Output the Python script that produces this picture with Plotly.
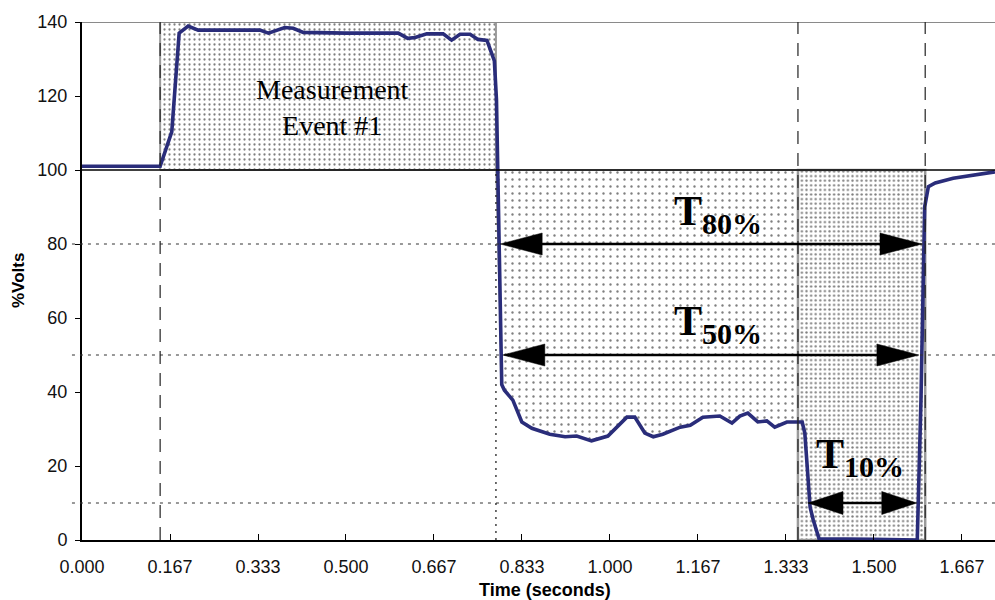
import numpy as np
import plotly.graph_objects as go

# ---- data ----
time_s = [0.000, 0.148, 0.170, 0.184, 0.201, 0.220, 0.260, 0.337, 0.353, 0.384, 0.400,
          0.419, 0.500, 0.599, 0.617, 0.631, 0.653, 0.684, 0.700, 0.716, 0.735, 0.750,
          0.767, 0.781, 0.785, 0.795, 0.800, 0.816, 0.833, 0.852, 0.886, 0.915, 0.937,
          0.965, 0.996, 1.032, 1.047, 1.066, 1.082, 1.100, 1.133, 1.152, 1.176, 1.208,
          1.231, 1.246, 1.261, 1.280, 1.297, 1.312, 1.335, 1.364, 1.369, 1.379, 1.385,
          1.396, 1.500, 1.582, 1.589, 1.596, 1.603, 1.616, 1.650, 1.688, 1.729]
volts = [101.0, 101.0, 110.3, 137.0, 138.9, 137.8, 137.8, 137.8, 137.0, 138.5, 138.3,
         137.2, 137.0, 137.0, 135.6, 135.8, 136.8, 136.8, 135.1, 136.7, 136.7, 135.3,
         135.0, 129.5, 119.0, 42.0, 40.5, 37.8, 31.9, 30.2, 28.6, 27.9, 28.1,
         26.8, 28.1, 33.2, 33.2, 28.9, 27.9, 28.6, 30.5, 31.0, 33.2, 33.5,
         31.6, 33.5, 34.3, 31.9, 32.2, 30.5, 31.9, 31.9, 28.9, 8.9, 5.4,
         0.3, 0.2, 0.0, 38.0, 90.0, 95.5, 96.5, 97.8, 98.6, 99.5]

x_tick_vals = [0.0, 1/6, 2/6, 3/6, 4/6, 5/6, 1.0, 7/6, 8/6, 9/6, 10/6]
x_tick_text = ["0.000", "0.167", "0.333", "0.500", "0.667", "0.833", "1.000",
               "1.167", "1.333", "1.500", "1.667"]
y_tick_vals = [0, 20, 40, 60, 80, 100, 120, 140]

event_start = 0.148
drop_start = 0.784
t10_start = 1.356
event_end = 1.597
nominal = 100
peak_top = 140
levels = {"80%": 80, "50%": 50, "10%": 10}

X_MAX = 1.7292
Y_MAX = 140

NAVY = "#2a2d7a"
GRAY = "#9a9a9a"
SERIF = "Liberation Serif, Times New Roman, serif"
SANS = "Liberation Sans, Arial, sans-serif"

fig = go.Figure()

# Measurement Event #1 box
fig.add_trace(go.Scatter(
    x=[event_start, drop_start, drop_start, event_start, event_start],
    y=[nominal, nominal, peak_top, peak_top, nominal],
    fill="toself", mode="lines", line=dict(color=GRAY, width=2),
    fillcolor="white",
    fillpattern=dict(shape=".", size=5, solidity=0.16, fgcolor="#000", bgcolor="white"),
    hoverinfo="skip", showlegend=False))

# Sag region between 100 and the curve
t_arr = np.array(time_s)
v_arr = np.array(volts)
mask = (t_arr > drop_start) & (t_arr < t10_start)
right_v = float(np.interp(t10_start, t_arr, v_arr))
poly_x = [drop_start, t10_start, t10_start] + list(t_arr[mask][::-1]) + [drop_start]
poly_y = [nominal, nominal, min(right_v, nominal)] + list(np.minimum(v_arr[mask][::-1], nominal)) + [nominal]
fig.add_trace(go.Scatter(
    x=poly_x, y=poly_y, fill="toself", mode="lines",
    line=dict(color=GRAY, width=1.5), fillcolor="white",
    fillpattern=dict(shape=".", size=7, solidity=0.09, fgcolor="#000", bgcolor="white"),
    hoverinfo="skip", showlegend=False))

# T10% dense box
fig.add_trace(go.Scatter(
    x=[t10_start, event_end, event_end, t10_start, t10_start],
    y=[0, 0, nominal, nominal, 0],
    fill="toself", mode="lines", line=dict(color=GRAY, width=2.5),
    fillcolor="white",
    fillpattern=dict(shape=".", size=4.6, solidity=0.2, fgcolor="#000", bgcolor="white"),
    hoverinfo="skip", showlegend=False))

# voltage curve
fig.add_trace(go.Scatter(
    x=time_s, y=volts, mode="lines",
    line=dict(color=NAVY, width=3.6), hoverinfo="skip", showlegend=False))

shapes = []
# top border line (gray)
shapes.append(dict(type="line", xref="paper", yref="y", x0=0, x1=1, y0=Y_MAX, y1=Y_MAX,
                   line=dict(color="#8a8a8a", width=2)))
# nominal 100 line
shapes.append(dict(type="line", xref="paper", yref="y", x0=0, x1=1, y0=nominal, y1=nominal,
                   line=dict(color="black", width=1.6)))
# dotted level lines
for lv in levels.values():
    shapes.append(dict(type="line", xref="paper", yref="y", x0=-0.011, x1=1, y0=lv, y1=lv,
                       line=dict(color="#333", width=1, dash="3px,5px")))
# vertical dashed lines
for xv in [event_start, t10_start, event_end]:
    shapes.append(dict(type="line", xref="x", yref="y", x0=xv, x1=xv, y0=0, y1=Y_MAX,
                       line=dict(color="#222", width=1.2, dash="13px,9px")))
# vertical dotted line
shapes.append(dict(type="line", xref="x", yref="y", x0=drop_start, x1=drop_start, y0=0, y1=nominal,
                   line=dict(color="#222", width=1.3, dash="2px,5px")))

# double-headed arrows
PX_PER_X = 913 / X_MAX
PX_PER_Y = 518 / Y_MAX


def arrow(x0, x1, y, head_len_px, head_h_px):
    hl = head_len_px / PX_PER_X
    hh = head_h_px / 2 / PX_PER_Y
    out = [dict(type="line", xref="x", yref="y", x0=x0 + hl * 0.5, x1=x1 - hl * 0.5, y0=y, y1=y,
                line=dict(color="black", width=2.5))]
    out.append(dict(type="path", xref="x", yref="y",
                    path=f"M{x0},{y} L{x0 + hl},{y + hh} L{x0 + hl},{y - hh} Z",
                    fillcolor="black", line=dict(color="black", width=0.5)))
    out.append(dict(type="path", xref="x", yref="y",
                    path=f"M{x1},{y} L{x1 - hl},{y + hh} L{x1 - hl},{y - hh} Z",
                    fillcolor="black", line=dict(color="black", width=0.5)))
    return out


shapes += arrow(0.792, 1.591, levels["80%"], 42, 22)
shapes += arrow(0.797, 1.585, levels["50%"], 42, 22)
shapes += arrow(1.375, 1.581, levels["10%"], 35, 23)

annotations = [
    dict(x=0.4735, y=116.8, xref="x", yref="y", text="Measurement<br>Event #1",
         showarrow=False, font=dict(family=SERIF, size=28, color="black"),
         xanchor="center", yanchor="middle"),
    dict(x=1.205, y=88.0, xref="x", yref="y",
         text="<b>T<sub><span style='font-size:30px'>80%</span></sub></b>",
         showarrow=False, font=dict(family=SERIF, size=42, color="black"),
         xanchor="center", yanchor="middle"),
    dict(x=1.205, y=58.3, xref="x", yref="y",
         text="<b>T<sub><span style='font-size:30px'>50%</span></sub></b>",
         showarrow=False, font=dict(family=SERIF, size=42, color="black"),
         xanchor="center", yanchor="middle"),
    dict(x=1.4735, y=22.5, xref="x", yref="y",
         text="<b>T<sub><span style='font-size:30px'>10%</span></sub></b>",
         showarrow=False, font=dict(family=SERIF, size=42, color="black"),
         xanchor="center", yanchor="middle"),
    dict(x=(545 - 82) / 913, y=(540 - 590) / 518, xref="paper", yref="paper",
         text="<b>Time (seconds)</b>", showarrow=False,
         font=dict(family=SANS, size=18, color="black"),
         xanchor="center", yanchor="middle"),
    dict(x=(18 - 82) / 913, y=0.5, xref="paper", yref="paper",
         text="<b>%Volts</b>", showarrow=False, textangle=-90,
         font=dict(family=SANS, size=17, color="black"),
         xanchor="center", yanchor="middle"),
]

fig.update_layout(
    width=995, height=600,
    margin=dict(l=82, r=0, t=22, b=60),
    paper_bgcolor="white", plot_bgcolor="white",
    shapes=shapes, annotations=annotations,
    xaxis=dict(range=[0, X_MAX], tickvals=x_tick_vals, ticktext=x_tick_text,
               showgrid=False, zeroline=False, showline=True, linecolor="black", linewidth=2,
               ticks="inside", ticklen=6, tickcolor="black", tickwidth=1.2,
               tickfont=dict(family=SANS, size=18, color="#111"), ticklabelstandoff=9),
    yaxis=dict(range=[0, Y_MAX], tickvals=y_tick_vals,
               showgrid=False, zeroline=False, showline=True, linecolor="black", linewidth=2,
               ticks="outside", ticklen=5, tickcolor="black", tickwidth=1.2,
               tickfont=dict(family=SANS, size=18, color="#111"), ticklabelstandoff=4),
)

fig.write_html("out.html", config={"displayModeBar": False},
               post_script="document.body.style.margin='0';document.body.style.overflow='hidden';")
